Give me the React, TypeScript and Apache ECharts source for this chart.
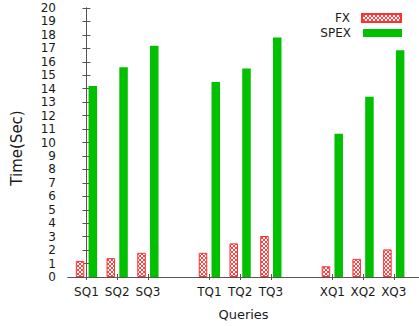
import React, { useEffect, useRef } from "react";
import * as echarts from "echarts";

// Query groups and their members (histogram blocks separated by a gap)
const groups: string[][] = [
  ["SQ1", "SQ2", "SQ3"],
  ["TQ1", "TQ2", "TQ3"],
  ["XQ1", "XQ2", "XQ3"],
];
const fxValues = [1.2, 1.4, 1.8, 1.8, 2.5, 3.05, 0.8, 1.35, 2.05];
const spexValues = [14.2, 15.6, 17.2, 14.5, 15.5, 17.8, 10.65, 13.4, 16.85];
const yTicks = Array.from({ length: 21 }, (_, i) => i);

const seriesNames = ["FX", "SPEX"];

const font = "DejaVu Sans";
const textColor = "#1a1a1a";
const axisColor = "#555555";

const hatchSvg =
  "<svg xmlns='http://www.w3.org/2000/svg' width='4' height='4'>" +
  "<rect width='4' height='4' fill='white'/>" +
  "<path d='M0,0L4,4M4,0L0,4' stroke='#ff3030' stroke-width='0.9'/></svg>";
const hatchUrl = "data:image/svg+xml;charset=utf-8," + encodeURIComponent(hatchSvg);

export default function App() {
  const ref = useRef<HTMLDivElement>(null);
  useEffect(() => {
    if (!ref.current) return;
    const chart = echarts.init(ref.current, null, { renderer: "svg" });

    const labels: string[] = [];
    const positions: number[] = [];
    groups.forEach((g, gi) =>
      g.forEach((name, i) => {
        labels.push(name);
        positions.push(gi * (g.length + 1) + i);
      })
    );
    const labelAt = (v: number) => {
      const idx = positions.findIndex((p) => Math.abs(p - v) < 1e-6);
      return idx >= 0 ? labels[idx] : "";
    };

    const xMin = -0.6;
    const xMax = 10.82;

    const common = {
      type: "value" as const,
      min: xMin,
      max: xMax,
      splitLine: { show: false },
    };

    const legendText = { fontFamily: font, fontSize: 12, color: textColor, padding: [0, 7, 0, 0] };

    chart.setOption({
      animation: false,
      backgroundColor: "#ffffff",
      grid: { left: 68, top: 8, width: 352, height: 269, containLabel: false },
      legend: [
        {
          data: ["FX"],
          right: 17,
          top: 12,
          padding: 0,
          align: "right",
          icon: "rect",
          itemWidth: 39,
          itemHeight: 8,
          textStyle: legendText,
        },
        {
          data: ["SPEX"],
          right: 17,
          top: 27,
          padding: 0,
          align: "right",
          icon: "rect",
          itemWidth: 39,
          itemHeight: 8,
          textStyle: legendText,
        },
      ],
      xAxis: [
        {
          ...common,
          position: "bottom",
          name: "Queries",
          nameLocation: "middle",
          nameGap: 31,
          nameTextStyle: { fontFamily: font, fontSize: 13, color: textColor },
          axisLine: { show: true, lineStyle: { color: axisColor, width: 1 } },
          axisTick: { show: true, inside: true, length: 3, customValues: positions, lineStyle: { color: axisColor } },
          axisLabel: {
            show: true,
            customValues: positions,
            formatter: (v: number) => labelAt(v),
            fontFamily: font,
            fontSize: 12,
            color: textColor,
            margin: 9,
          },
        },
        {
          ...common,
          position: "top",
          axisLine: { show: true, lineStyle: { color: axisColor, width: 1 } },
          axisTick: { show: true, inside: true, length: 3, customValues: positions, lineStyle: { color: axisColor } },
          axisLabel: { show: false },
        },
      ],
      yAxis: [
        {
          type: "value",
          min: 0,
          max: 20,
          interval: 1,
          position: "left",
          name: "Time(Sec)",
          nameLocation: "middle",
          nameGap: 44,
          nameTextStyle: { fontFamily: font, fontSize: 15, color: textColor, padding: [0, 0, 0, -11] },
          splitLine: { show: false },
          axisLine: { show: true, lineStyle: { color: axisColor, width: 1 } },
          axisTick: { show: true, inside: true, length: 4, lineStyle: { color: axisColor } },
          axisLabel: {
            fontFamily: font,
            fontSize: 12,
            color: textColor,
            margin: 12,
            customValues: yTicks,
          },
        },
        {
          type: "value",
          min: 0,
          max: 20,
          interval: 1,
          position: "right",
          splitLine: { show: false },
          axisLine: { show: true, lineStyle: { color: axisColor, width: 1 } },
          axisTick: { show: true, inside: true, length: 4, lineStyle: { color: axisColor } },
          axisLabel: { show: false },
        },
      ],
      series: [
        {
          name: seriesNames[0],
          type: "bar",
          xAxisIndex: 0,
          yAxisIndex: 0,
          barWidth: 8.5,
          barGap: "50%",
          itemStyle: {
            color: {
              image: hatchUrl,
              repeat: "repeat",
              imageWidth: 4,
              imageHeight: 4,
            },
            borderColor: "#ff3030",
            borderWidth: 1,
          },
          data: positions.map((p, i) => [p, fxValues[i]]),
        },
        {
          name: seriesNames[1],
          type: "bar",
          xAxisIndex: 0,
          yAxisIndex: 0,
          barWidth: 8.5,
          barGap: "50%",
          itemStyle: { color: "#00c000" },
          data: positions.map((p, i) => [p, spexValues[i]]),
        },
      ],
    });
    return () => chart.dispose();
  }, []);
  return <div ref={ref} style={{ width: 419, height: 326, position: "absolute", left: 0, top: 0 }} />;
}
